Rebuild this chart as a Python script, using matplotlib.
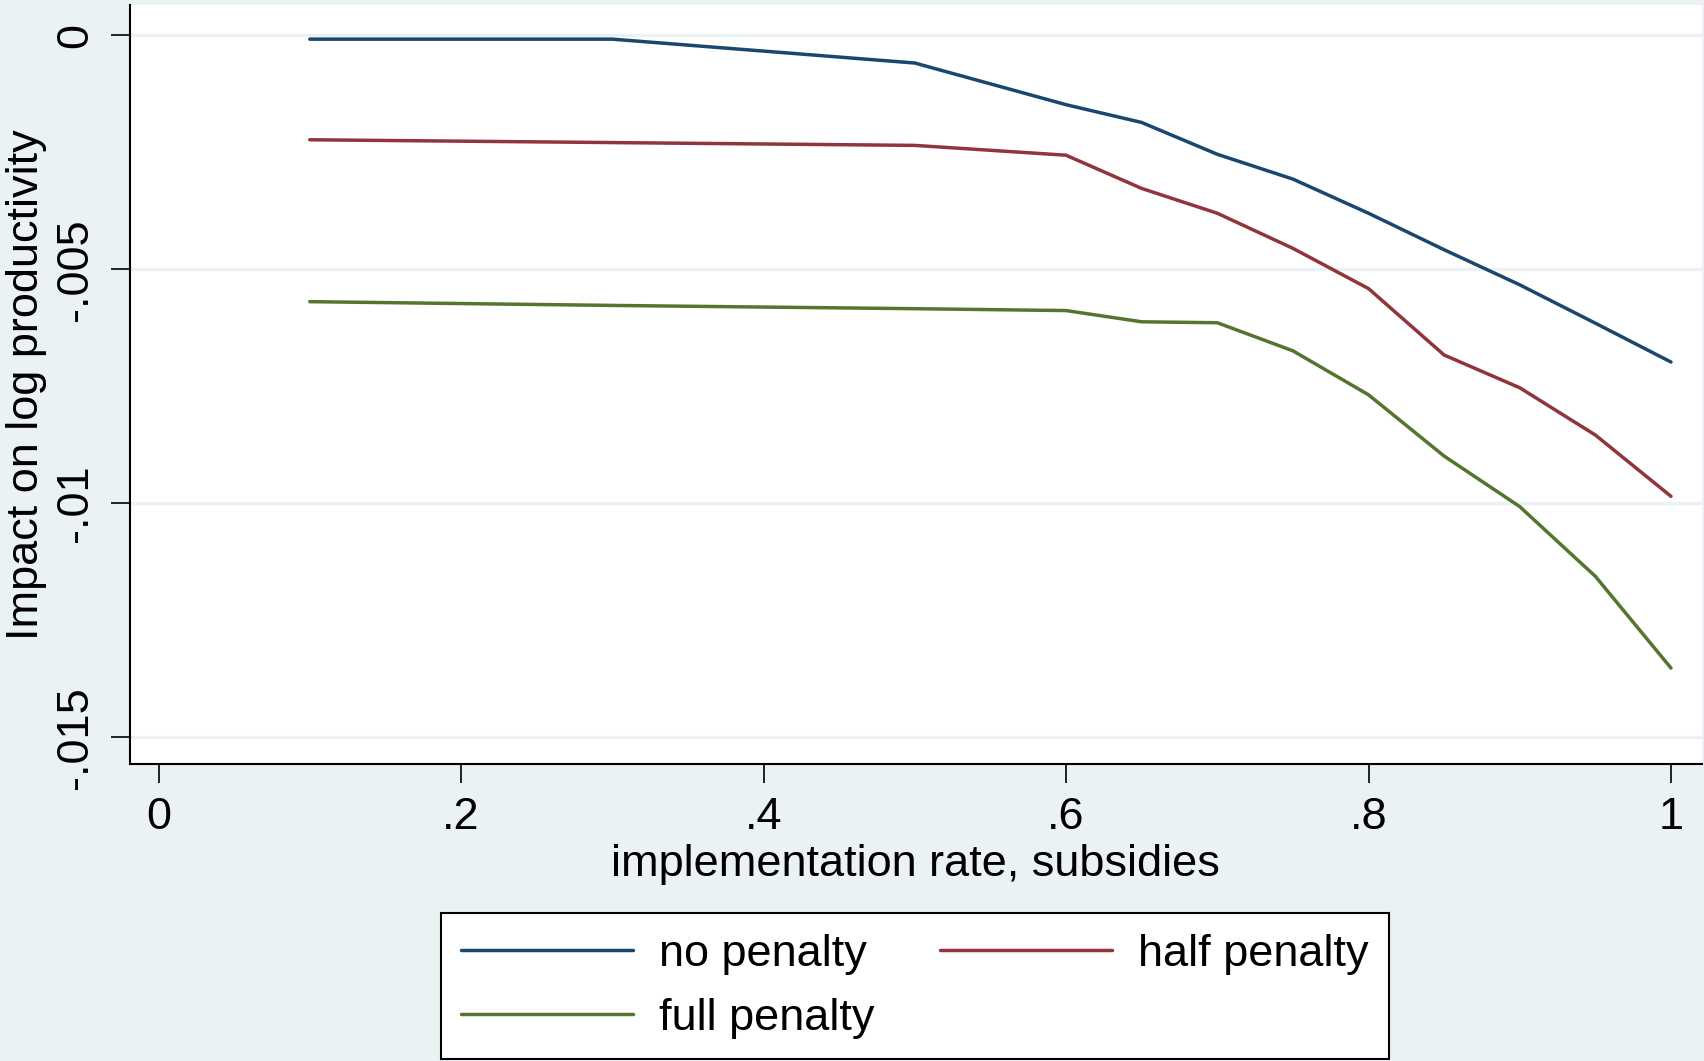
import numpy as np
import matplotlib
matplotlib.use("Agg")
import matplotlib.pyplot as plt

plt.rcParams['font.family'] = ['Liberation Sans', 'DejaVu Sans']

# implementation rate of subsidies and impact on log productivity
rate = [0.1, 0.3, 0.5, 0.6, 0.65, 0.7, 0.75, 0.8, 0.85, 0.9, 0.95, 1.0]
no_penalty = [-0.00008, -0.00008, -0.00059, -0.00148, -0.00186, -0.00254,
              -0.00307, -0.0038, -0.00458, -0.00533, -0.00615, -0.00698]
half_penalty = [-0.00223, -0.00229, -0.00235, -0.00256, -0.00327, -0.0038,
                -0.00455, -0.00541, -0.00683, -0.00753, -0.00854, -0.00985]
full_penalty = [-0.00569, -0.00577, -0.00584, -0.00588, -0.00612, -0.00614,
                -0.00674, -0.00768, -0.00899, -0.01007, -0.01156, -0.01352]

xticks = [0, 0.2, 0.4, 0.6, 0.8, 1.0]
xtick_labels = ['0', '.2', '.4', '.6', '.8', '1']
yticks = [0, -0.005, -0.01, -0.015]
ytick_labels = ['0', '-.005', '-.01', '-.015']

bg = '#EAF2F3'
W, H = 1704, 1061
fig = plt.figure(figsize=(W / 100, H / 100), dpi=100, facecolor=bg)
ax = fig.add_axes([129.5 / W, 1 - 764 / H, (1702 - 129.5) / W, (764 - 5) / H])
ax.set_facecolor('white')

fs = 32.5
lw = 2.5
l1, = ax.plot(rate, no_penalty, color='#1A476F', lw=lw, label='no penalty',
              solid_capstyle='round')
l2, = ax.plot(rate, half_penalty, color='#90353B', lw=lw, label='half penalty',
              solid_capstyle='round')
l3, = ax.plot(rate, full_penalty, color='#55752F', lw=lw, label='full penalty',
              solid_capstyle='round')

ax.set_xlim(-0.0192, 1.0205)
ax.set_ylim(-0.01557, 0.00065)

ax.set_xticks(xticks)
ax.set_xticklabels(xtick_labels, fontsize=fs)
ax.set_yticks(yticks)
ax.set_yticklabels(ytick_labels, fontsize=fs, rotation=90, va='center')
ax.tick_params(axis='both', length=14, width=1.2, color='black')
ax.tick_params(axis='x', pad=10)
ax.tick_params(axis='y', pad=10)

ax.grid(axis='y', color=bg, lw=2.4)
ax.set_axisbelow(True)

for side in ['top', 'right']:
    ax.spines[side].set_visible(False)
for side in ['left', 'bottom']:
    ax.spines[side].set_linewidth(1.5)
    ax.spines[side].set_color('black')

ax.set_xlabel('implementation rate, subsidies', fontsize=fs, labelpad=4)
ax.set_ylabel('Impact on log productivity', fontsize=fs, labelpad=6)

# legend fills column-wise, so order handles to get rows: no/half, full
leg = fig.legend([l1, l3, l2], ['no penalty', 'full penalty', 'half penalty'],
                 loc='lower center', bbox_to_anchor=(915 / W, 0.0015),
                 ncol=2, fontsize=fs, frameon=True, fancybox=False,
                 edgecolor='black', facecolor='white', framealpha=1,
                 handlelength=3.8, handletextpad=0.58, columnspacing=1.46,
                 labelspacing=0.52, borderaxespad=0, borderpad=0.45)
leg.get_frame().set_linewidth(1.5)

fig.savefig('out.png', dpi=100, facecolor=bg)
